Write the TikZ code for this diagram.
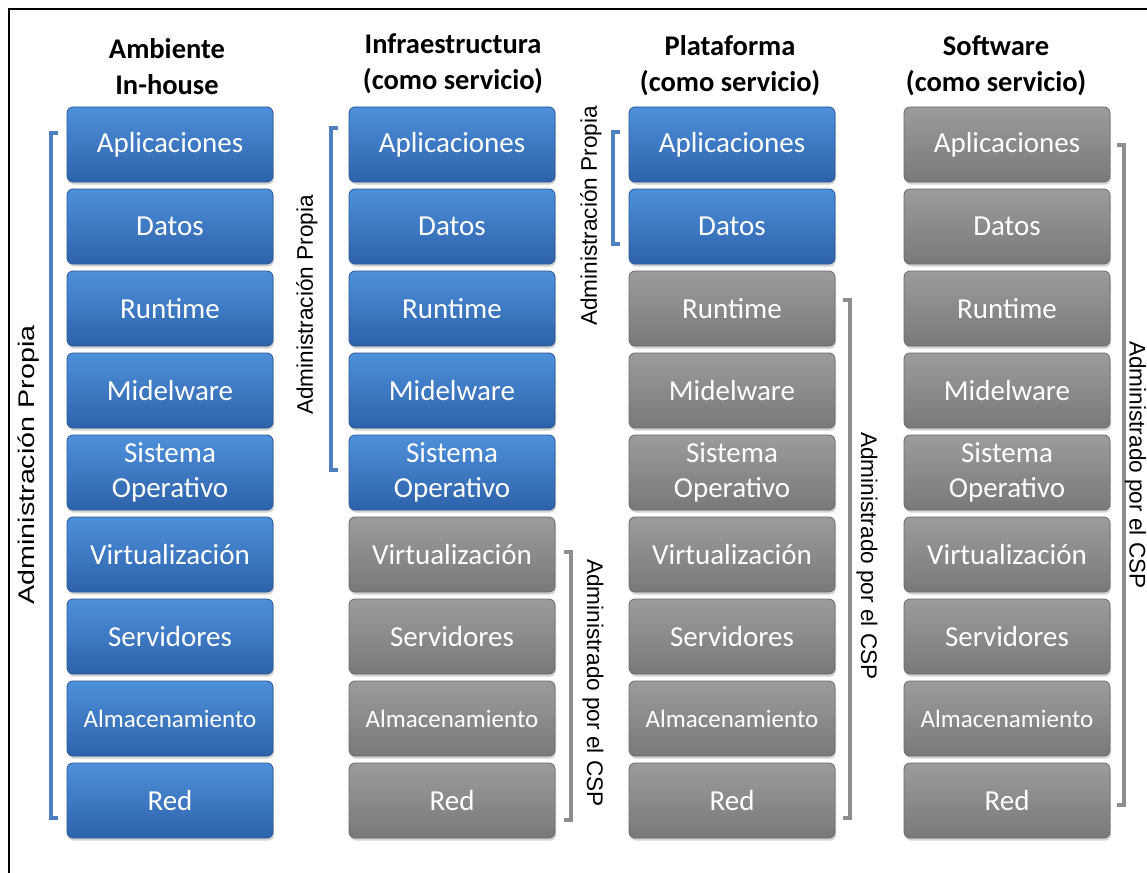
\documentclass[tikz,border=0pt]{standalone}
\usepackage{fontspec}
\setmainfont{Carlito}
\newfontfamily\arialf{Liberation Sans}
\usetikzlibrary{shadows}
\definecolor{bluetop}{HTML}{4E90DB}
\definecolor{bluebot}{HTML}{2D62A9}
\definecolor{blueedge}{HTML}{2A5896}
\definecolor{graytop}{HTML}{9C9C9C}
\definecolor{graybot}{HTML}{797979}
\definecolor{grayedge}{HTML}{6A6A6A}
\definecolor{bluebrk}{HTML}{4F7FBE}
\definecolor{graybrk}{HTML}{8E8E8E}
\tikzset{
  layer/.style={rectangle, rounded corners=6pt, minimum width=206pt, minimum height=75pt,
    text=white, font=\fontsize{29}{35}\selectfont, align=center, inner sep=0pt,
    line width=0.8pt,
    drop shadow={opacity=0.35, shadow xshift=1pt, shadow yshift=-2.5pt}},
  bluebox/.style={layer, top color=bluetop, bottom color=bluebot, draw=blueedge},
  graybox/.style={layer, top color=graytop, bottom color=graybot, draw=grayedge},
  title/.style={font=\fontsize{28.5}{36}\selectfont\bfseries, align=center, text=black},
  sidelabel/.style={font=\arialf\fontsize{22.6}{26}\selectfont, text=black, inner sep=0pt},
  bluebracket/.style={draw=bluebrk, line width=3.2pt},
  graybracket/.style={draw=graybrk, line width=3.2pt},
}
\begin{document}
\begin{tikzpicture}[x=1pt,y=-1pt]
\useasboundingbox (0,0) rectangle (1147,872);
\fill[white] (0,0) rectangle (1147,872);
% frame
\draw[line width=2.2pt] (9,890) -- (9,9) -- (1170,9);

% titles
\node[title] (t1) at (167,67) {Ambiente\\In-house};
\node[title] (t2) at (453,64) {Infraestructura\\(como servicio)};
\node[title] (t3) at (730,66) {Plataforma\\(como servicio)};
\node[title] (t4) at (996,66) {Software\\(como servicio)};

% layers
\foreach \c/\x/\nb in {1/170/9, 2/452/5, 3/732/2, 4/1007/0} {
  \foreach \t [count=\r] in {Aplicaciones, Datos, Runtime, Midelware, {Sistema\\Operativo}, Virtualización, Servidores, {\fontsize{25}{28}\selectfont Almacenamiento}, Red} {
    \pgfmathsetmacro\yy{107+82*(\r-1)+37.5}
    \ifnum\r>\nb\relax
      \tikzset{cur/.style={graybox}}
    \else
      \tikzset{cur/.style={bluebox}}
    \fi
    \node[cur] (c\c r\r) at (\x,\yy) {\t};
  }
}

% brackets
\coordinate (b1t) at (51,133);  \coordinate (b1b) at (51,818);
\coordinate (b2t) at (331,128); \coordinate (b2b) at (331,470);
\coordinate (b3t) at (613,132); \coordinate (b3b) at (613,244);
\coordinate (b4t) at (571,552); \coordinate (b4b) at (571,820);
\coordinate (b5t) at (850,300); \coordinate (b5b) at (850,818);
\coordinate (b6t) at (1124,145); \coordinate (b6b) at (1124,805);
\draw[bluebracket] (b1t) ++(7,0) -- (b1t) -- (b1b) -- ++(7,0);
\draw[bluebracket] (b2t) ++(7,0) -- (b2t) -- (b2b) -- ++(7,0);
\draw[bluebracket] (b3t) ++(7,0) -- (b3t) -- (b3b) -- ++(7,0);
\draw[graybracket] (b4t) ++(-7,0) -- (b4t) -- (b4b) -- ++(-7,0);
\draw[graybracket] (b5t) ++(-7,0) -- (b5t) -- (b5b) -- ++(-7,0);
\draw[graybracket] (b6t) ++(-7,0) -- (b6t) -- (b6b) -- ++(-7,0);

% side labels
\node[sidelabel, rotate=90] (l1) at (29,465) {\scalebox{1.27}[1]{Administración Propia}};
\node[sidelabel, rotate=90] (l2) at (307,305) {Administración Propia};
\node[sidelabel, rotate=90] (l3) at (591,216) {Administración Propia};
\node[sidelabel, rotate=-90] (l4) at (593,683) {Administrado por el CSP};
\node[sidelabel, rotate=-90] (l5) at (867,556) {Administrado por el CSP};
\node[sidelabel, rotate=-90] (l6) at (1135.5,465) {Administrado por el CSP};
\end{tikzpicture}
\end{document}
